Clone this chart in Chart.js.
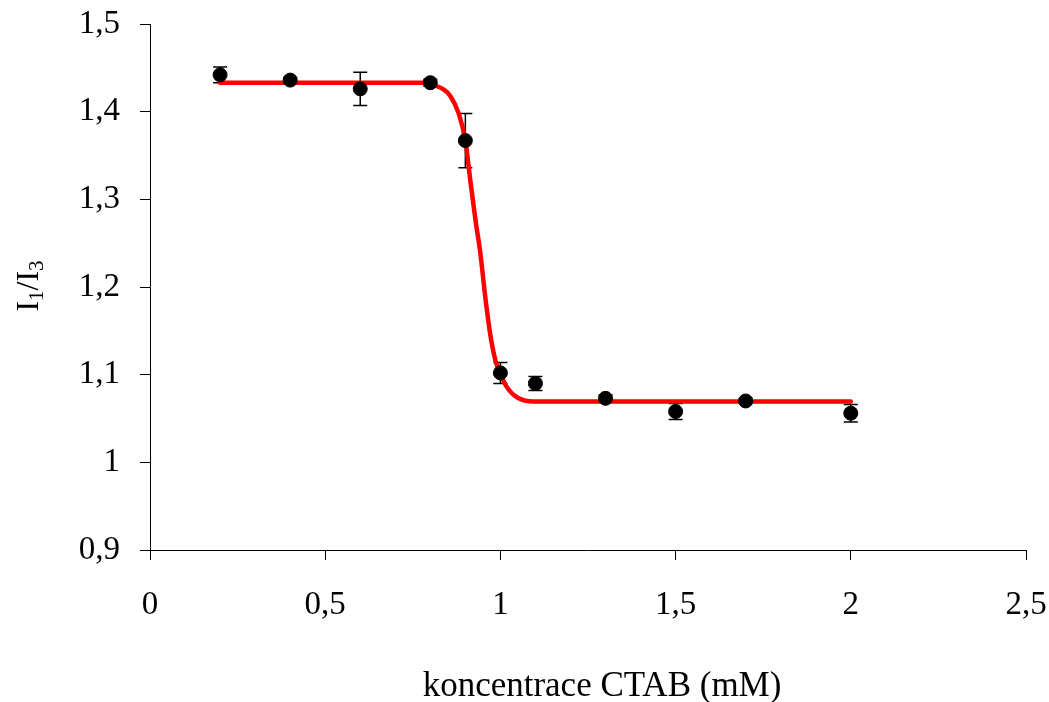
<!DOCTYPE html>
<html>
<head>
<meta charset="utf-8">
<script src="https://cdn.jsdelivr.net/npm/chart.js@4"></script>
<style>
  html, body { margin: 0; padding: 0; background: #fff; }
  #wrap { width: 1049px; height: 702px; }
</style>
</head>
<body>
<div id="wrap"><canvas id="chart" width="1049" height="702"></canvas></div>
<script>
// measured points (concentration in mM)
const concX = [0.2, 0.4, 0.6, 0.8, 0.9, 1.0, 1.1, 1.3, 1.5, 1.7, 2.0];
const ratioY = [1.442, 1.436, 1.426, 1.433, 1.367, 1.102, 1.090, 1.073, 1.058, 1.070, 1.056];
const ratioErr = [0.009, 0.003, 0.019, 0.004, 0.031, 0.012, 0.008, 0.004, 0.009, 0.003, 0.010];

// fitted curve
const fitX = [0.2, 0.4, 0.6, 0.8, 0.81, 0.835, 0.857, 0.881, 0.9, 0.914, 0.929, 0.943, 0.957, 0.971, 0.986, 1.0, 1.019, 1.048, 1.095, 1.3, 1.5, 1.7, 2.0];
const fitY = [1.433, 1.433, 1.433, 1.433, 1.4305, 1.426, 1.418, 1.398, 1.367, 1.322, 1.276, 1.238, 1.188, 1.146, 1.116, 1.101, 1.0855, 1.074, 1.0695, 1.0695, 1.0695, 1.0695, 1.0695];

const xTicks = [0, 0.5, 1, 1.5, 2, 2.5];
const yTicks = [0.9, 1.0, 1.1, 1.2, 1.3, 1.4, 1.5];

const FONT = '"Liberation Serif", "Times New Roman", serif';

function fmt(v) {
    return String(Math.round(v * 10) / 10).replace('.', ',');
}

const errorBars = {
    id: 'errorBars',
    beforeDatasetsDraw(chart) {
        const { ctx, scales: { x, y } } = chart;
        ctx.save();
        ctx.strokeStyle = '#000';
        ctx.lineWidth = 1.5;
        concX.forEach((cx, i) => {
            const px = x.getPixelForValue(cx);
            const top = y.getPixelForValue(ratioY[i] + ratioErr[i]);
            const bot = y.getPixelForValue(ratioY[i] - ratioErr[i]);
            ctx.beginPath();
            ctx.moveTo(px, top); ctx.lineTo(px, bot);
            ctx.moveTo(px - 7, top); ctx.lineTo(px + 7, top);
            ctx.moveTo(px - 7, bot); ctx.lineTo(px + 7, bot);
            ctx.stroke();
        });
        ctx.restore();
    }
};

const axisTitles = {
    id: 'axisTitles',
    afterDraw(chart) {
        const { ctx } = chart;
        ctx.save();
        ctx.fillStyle = '#000';
        ctx.textBaseline = 'middle';

        // x title
        ctx.font = '35px ' + FONT;
        ctx.textAlign = 'center';
        ctx.fillText('koncentrace CTAB (mM)', 602, 687);

        // y title with subscripts
        const parts = [['I', false], ['1', true], ['/I', false], ['3', true]];
        const big = '32px ' + FONT, small = '21px ' + FONT;
        let total = 0;
        parts.forEach(p => { ctx.font = p[1] ? small : big; total += ctx.measureText(p[0]).width; });
        ctx.translate(30, 286);
        ctx.rotate(-Math.PI / 2);
        ctx.textAlign = 'left';
        let pos = -total / 2;
        parts.forEach(p => {
            ctx.font = p[1] ? small : big;
            ctx.fillText(p[0], pos, p[1] ? 7 : 0);
            pos += ctx.measureText(p[0]).width;
        });
        ctx.restore();
    }
};

function noPad(scale) {
    scale.paddingLeft = 0;
    scale.paddingRight = 0;
    scale.paddingTop = 0;
    scale.paddingBottom = 0;
}

const ctx = document.getElementById('chart').getContext('2d');
new Chart(ctx, {
    type: 'scatter',
    data: {
        datasets: [
            {
                label: 'I1/I3',
                data: concX.map((v, i) => ({ x: v, y: ratioY[i] })),
                backgroundColor: '#000',
                borderColor: '#000',
                pointRadius: 7,
                pointHoverRadius: 7,
                showLine: false
            },
            {
                label: 'fit',
                data: fitX.map((v, i) => ({ x: v, y: fitY[i] })),
                showLine: true,
                borderColor: '#ff0000',
                borderWidth: 4.5,
                pointRadius: 0,
                cubicInterpolationMode: 'monotone',
                borderCapStyle: 'round',
                borderJoinStyle: 'round'
            }
        ]
    },
    options: {
        responsive: false,
        animation: false,
        events: [],
        layout: { padding: { left: 0, right: 23, top: 24, bottom: 0 } },
        plugins: {
            legend: { display: false },
            tooltip: { enabled: false }
        },
        scales: {
            x: {
                type: 'linear',
                min: 0,
                max: 2.5,
                afterFit(scale) { scale.height = 152; noPad(scale); },
                afterBuildTicks(scale) { scale.ticks = xTicks.map(v => ({ value: v })); },
                grid: { drawOnChartArea: false, drawTicks: true, tickLength: 10, color: '#000' },
                border: { color: '#000', width: 1 },
                ticks: {
                    color: '#000',
                    font: { family: FONT, size: 33 },
                    padding: 26,
                    maxRotation: 0,
                    callback: v => fmt(v)
                }
            },
            y: {
                min: 0.9,
                max: 1.5,
                afterFit(scale) { scale.width = 150; noPad(scale); },
                afterBuildTicks(scale) { scale.ticks = yTicks.map(v => ({ value: v })); },
                grid: { drawOnChartArea: false, drawTicks: true, tickLength: 10, color: '#000' },
                border: { color: '#000', width: 1 },
                ticks: {
                    color: '#000',
                    font: { family: FONT, size: 33 },
                    padding: 20,
                    callback: v => fmt(v)
                }
            }
        }
    },
    plugins: [errorBars, axisTitles]
});
</script>
</body>
</html>
